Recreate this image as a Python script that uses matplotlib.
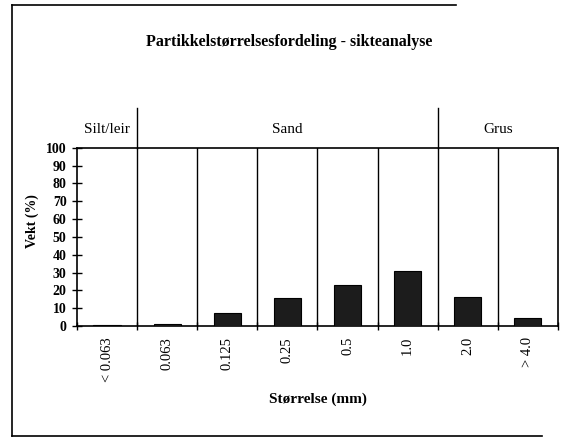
import matplotlib.pyplot as plt
import matplotlib.transforms as mtransforms
from matplotlib.lines import Line2D
import numpy as np

# data
sizes = ["< 0.063", "0.063", "0.125", "0.25", "0.5", "1.0", "2.0", "> 4.0"]
weight = [0.5, 1.0, 7.5, 15.5, 23.0, 31.0, 16.0, 4.5]
groups = ["Silt/leir", "Sand", "Grus"]
group_centers = [0, 3.0, 6.5]
group_splits = [0.5, 5.5]

plt.rcParams['font.family'] = ['Liberation Serif', 'DejaVu Serif']

fig = plt.figure(figsize=(5.7, 4.37), dpi=100)
ax = fig.add_axes([0.135, 0.254, 0.844, 0.408])

x = np.arange(len(sizes))
ax.bar(x, weight, width=0.45, color='#1c1c1c', edgecolor='black', linewidth=0.8, zorder=3)

ax.set_xlim(-0.5, len(sizes) - 0.5)
ax.set_ylim(0, 100)
ax.set_yticks(np.arange(0, 101, 10))
ax.tick_params(axis='y', direction='inout', length=7, width=1, labelsize=10, pad=4)
for lbl in ax.get_yticklabels():
    lbl.set_fontweight('bold')

ax.set_xticks(x)
ax.set_xticklabels(sizes, rotation=90, fontsize=10.5)
ax.tick_params(axis='x', length=0, pad=8)
ax.set_xticks(np.arange(-0.5, len(sizes), 1), minor=True)
ax.tick_params(axis='x', which='minor', direction='inout', length=6, width=1)

for b in np.arange(0.5, len(sizes) - 0.5, 1):
    ax.axvline(b, color='black', linewidth=1.0, zorder=2)
for s in ax.spines.values():
    s.set_linewidth(1.2)

ax.set_ylabel("Vekt (%)", fontsize=10, fontweight='bold', labelpad=6)
ax.yaxis.set_label_coords(-0.078, 0.59)
ax.set_xlabel("Størrelse (mm)", fontsize=11, fontweight='bold', labelpad=8)

# group header above the plot
trans = mtransforms.blended_transform_factory(ax.transData, ax.transAxes)
for name, cx in zip(groups, group_centers):
    ax.text(cx, 1.1, name, transform=trans, ha='center', va='center', fontsize=11)
for sx in group_splits:
    ax.plot([sx, sx], [1.0, 1.22], transform=trans, color='black', linewidth=1.0, clip_on=False)

fig.text(0.508, 0.905, "Partikkelstørrelsesfordeling - sikteanalyse",
         ha='center', va='center', fontsize=11.5, fontweight='bold')

# outer frame of the scanned chart (right edge cut off)
fig.add_artist(Line2D([0.021, 0.021], [0.002, 0.988], color='black', linewidth=1.2, transform=fig.transFigure))
fig.add_artist(Line2D([0.021, 0.8], [0.988, 0.988], color='black', linewidth=1.2, transform=fig.transFigure))
fig.add_artist(Line2D([0.021, 0.95], [0.002, 0.002], color='black', linewidth=1.2, transform=fig.transFigure))

fig.savefig("out.png", dpi=100)
